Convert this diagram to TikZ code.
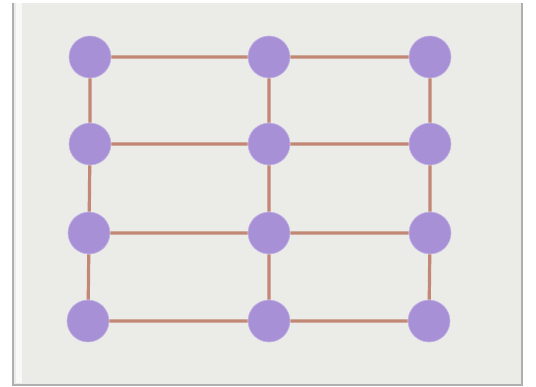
\documentclass[tikz,border=0pt]{standalone}
\begin{document}
\begin{tikzpicture}[x=1pt,y=-1pt,
  dot/.style={circle,minimum size=42pt,inner sep=0pt,fill=dotfill,draw=dotedge,line width=0.6pt},
  link/.style={draw=linkcol,line width=3.2pt}]
\definecolor{dotfill}{RGB}{168,144,214}
\definecolor{dotedge}{RGB}{195,182,228}
\definecolor{linkcol}{RGB}{195,135,118}
\definecolor{panel}{RGB}{235,235,232}
\definecolor{panelline}{RGB}{175,175,175}
\useasboundingbox (0,0) rectangle (536,387);
\fill[white] (0,0) rectangle (536,387);
\fill[panel] (13,3) rectangle (522,385);
\draw[panelline,line width=1.5pt] (13,3) -- (13,385) -- (522,385) -- (522,3);
\fill[white!70!panel] (16,3) rectangle (22,383);
\node[dot] (a1) at (90,57) {};
\node[dot] (b1) at (269,57) {};
\node[dot] (c1) at (430,57) {};
\node[dot] (a2) at (90,144) {};
\node[dot] (b2) at (269,144) {};
\node[dot] (c2) at (430,144) {};
\node[dot] (a3) at (89,233) {};
\node[dot] (b3) at (269,233) {};
\node[dot] (c3) at (430,233) {};
\node[dot] (a4) at (88,321) {};
\node[dot] (b4) at (269,321) {};
\node[dot] (c4) at (429,321) {};
\path[link] (a1) -- (b1) (b1) -- (c1)
  (a2) -- (b2) (b2) -- (c2)
  (a3) -- (b3) (b3) -- (c3)
  (a4) -- (b4) (b4) -- (c4)
  (a1) -- (a2) (a2) -- (a3) (a3) -- (a4)
  (b1) -- (b2) (b2) -- (b3) (b3) -- (b4)
  (c1) -- (c2) (c2) -- (c3) (c3) -- (c4);
\end{tikzpicture}
\end{document}
